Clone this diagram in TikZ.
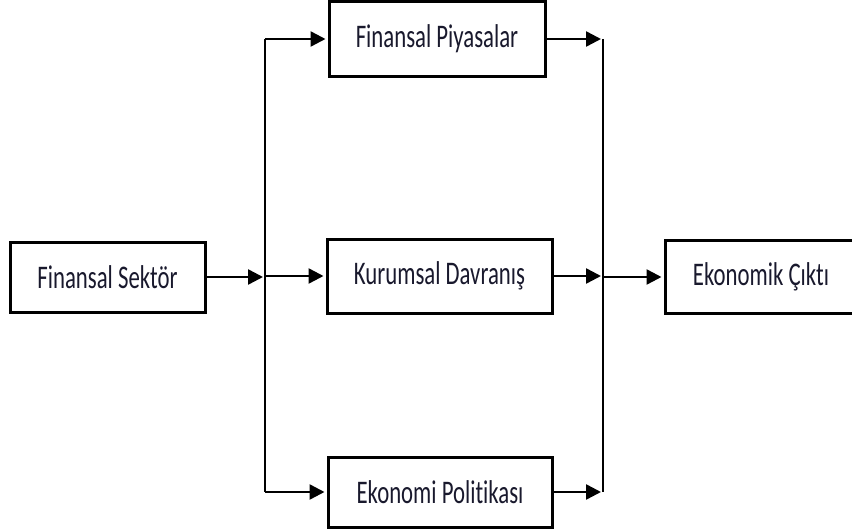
\documentclass[tikz,border=0pt]{standalone}
\usepackage{fontspec}
\usepackage{graphicx}
\setmainfont{Carlito}[Ligatures=CommonOff]
\usetikzlibrary{arrows.meta}
\definecolor{txt}{RGB}{25,25,45}
\begin{document}
\begin{tikzpicture}[x=1pt,y=-1pt,
  box/.style={draw=black, line width=3pt, fill=white, inner sep=0pt, text=txt,
    font=\fontsize{33}{40}\selectfont},
  arr/.style={line width=2.5pt, -{Triangle[length=15pt,width=15pt]}, shorten >=2pt},
  vline/.style={line width=1.3pt}]
\useasboundingbox (0,0) rectangle (852,532);
\newcommand{\sq}[1]{\scalebox{0.69}[1]{#1}}
\node[box, minimum width=195pt, minimum height=70pt] (fs) at (107.5,277) {\sq{Finansal Sektör}};
\node[box, minimum width=216pt, minimum height=75pt] (fp) at (437,39) {\sq{Finansal Piyasalar}};
\node[box, minimum width=225pt, minimum height=74pt] (kd) at (439.5,276) {\sq{Kurumsal Davranış}};
\node[box, minimum width=224pt, minimum height=70pt] (ep) at (440,492) {\sq{Ekonomi Politikası}};
\node[box, minimum width=192pt, minimum height=73pt] (ec) at (761,277) {\sq{Ekonomik Çıktı}};
\coordinate (Lt) at (265,39);
\coordinate (Lb) at (265,492);
\coordinate (Rt) at (603,39);
\coordinate (Rb) at (603,492);
\draw[vline] (Lt) -- (Lb);
\draw[vline] (Rt) -- (Rb);
\draw[arr] (fs.east) -- (fs.east -| Lt);
\draw[arr] (Lt) -- (fp.west);
\draw[arr] (kd.west -| Lt) -- (kd.west);
\draw[arr] (Lb) -- (ep.west);
\draw[arr] (fp.east) -- (Rt);
\draw[arr] (kd.east) -- (kd.east -| Rt);
\draw[arr] (ep.east) -- (Rb);
\draw[arr] (ec.west -| Rt) -- (ec.west);
\end{tikzpicture}
\end{document}
